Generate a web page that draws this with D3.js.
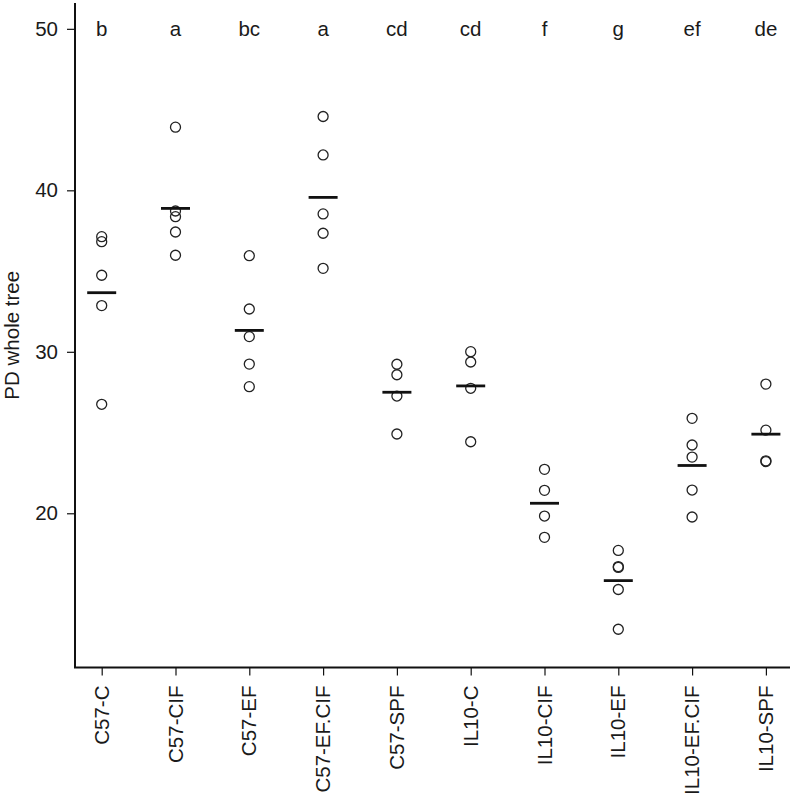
<!DOCTYPE html>
<html>
<head>
<meta charset="utf-8">
<script src="https://cdn.jsdelivr.net/npm/d3@7"></script>
<style>
  html, body { margin: 0; padding: 0; background: #fff; }
  svg { display: block; }
  text { font-family: "Liberation Sans", Arial, sans-serif; fill: #1a1a1a; }
</style>
</head>
<body>
<svg id="chart" width="795" height="801"></svg>
<script>
// ---- Data ----
const groups = ["C57-C", "C57-CIF", "C57-EF", "C57-EF.CIF", "C57-SPF",
                "IL10-C", "IL10-CIF", "IL10-EF", "IL10-EF.CIF", "IL10-SPF"];
const letters = ["b", "a", "bc", "a", "cd", "cd", "f", "g", "ef", "de"];
const c57C      = [37.13, 36.82, 34.74, 32.86, 26.75];
const c57CIF    = [43.91, 38.72, 38.37, 37.42, 35.98];
const c57EF     = [35.95, 32.65, 30.94, 29.24, 27.84];
const c57EFCIF  = [44.57, 42.19, 38.54, 37.34, 35.17];
const c57SPF    = [29.23, 28.58, 27.26, 24.91];
const il10C     = [30.01, 29.37, 27.74, 24.43];
const il10CIF   = [22.72, 21.42, 19.83, 18.51];
const il10EF    = [17.70, 16.70, 16.65, 15.28, 12.82];
const il10EFCIF = [25.88, 24.23, 23.48, 21.44, 19.77];
const il10SPF   = [28.00, 25.15, 23.25, 23.20];
const seriesValues = [c57C, c57CIF, c57EF, c57EFCIF, c57SPF,
                      il10C, il10CIF, il10EF, il10EFCIF, il10SPF];
const yTicks = [20, 30, 40, 50];
const yLabel = "PD whole tree";

// ---- Layout ----
const svg = d3.select("#chart");
const axisX = 75, axisBottom = 667.5, axisTop = 3;
const fs = 20.5;

const y = d3.scaleLinear().domain([10.45, 51.6]).range([axisBottom, axisTop]);
const x = d3.scalePoint().domain(groups).range([101.7, 765.9]);

// Y axis
const yAxis = svg.append("g")
  .attr("transform", `translate(${axisX},0)`)
  .call(d3.axisLeft(y).tickValues(yTicks).tickSize(8).tickPadding(9).tickSizeOuter(0));
yAxis.select(".domain").attr("stroke", "#111").attr("stroke-width", 2)
  .attr("d", `M0,${axisTop}V${axisBottom}`);
yAxis.selectAll(".tick line").attr("stroke", "#111").attr("stroke-width", 1.2);
yAxis.selectAll(".tick text").attr("font-size", fs)
  .style("font-family", "'Liberation Sans', Arial, sans-serif").attr("fill", "#1a1a1a");

// X axis
const xAxis = svg.append("g")
  .attr("transform", `translate(0,${axisBottom})`)
  .call(d3.axisBottom(x).tickSize(8).tickSizeOuter(0).tickFormat(""));
xAxis.select(".domain").attr("stroke", "#111").attr("stroke-width", 2)
  .attr("d", `M${axisX - 1},0H790`);
xAxis.selectAll(".tick line").attr("stroke", "#111").attr("stroke-width", 1.2);

// Rotated x labels
svg.append("g").selectAll("text").data(groups).join("text")
  .attr("transform", d => `translate(${x(d)},${axisBottom + 18}) rotate(-90)`)
  .attr("text-anchor", "end")
  .attr("dy", "0.35em")
  .attr("font-size", fs)
  .text(d => d);

// Y label
svg.append("text")
  .attr("transform", `translate(12,${(axisTop + axisBottom) / 2}) rotate(-90)`)
  .attr("text-anchor", "middle")
  .attr("dy", "0.35em")
  .attr("font-size", fs)
  .text(yLabel);

// Significance letters
svg.append("g").selectAll("text").data(groups).join("text")
  .attr("x", d => x(d))
  .attr("y", y(50))
  .attr("dy", "0.35em")
  .attr("text-anchor", "middle")
  .attr("font-size", fs)
  .text((d, i) => letters[i]);

// Points
const pts = [];
groups.forEach((g, i) => seriesValues[i].forEach(v => pts.push({ g, v })));
svg.append("g").selectAll("circle").data(pts).join("circle")
  .attr("cx", d => x(d.g))
  .attr("cy", d => y(d.v))
  .attr("r", 5)
  .attr("fill", "none")
  .attr("stroke", "#222")
  .attr("stroke-width", 1.3);

// Mean lines
svg.append("g").selectAll("line").data(groups).join("line")
  .attr("x1", d => x(d) - 14.5)
  .attr("x2", d => x(d) + 14.5)
  .attr("y1", (d, i) => y(d3.mean(seriesValues[i])))
  .attr("y2", (d, i) => y(d3.mean(seriesValues[i])))
  .attr("stroke", "#111")
  .attr("stroke-width", 2.8);
</script>
</body>
</html>
